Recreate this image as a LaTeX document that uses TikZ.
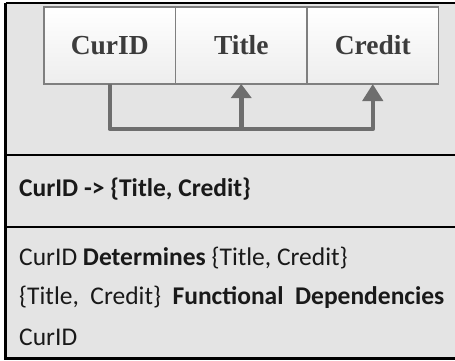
\documentclass[tikz,border=0pt]{standalone}
\usepackage{fontspec}
\setmainfont{Carlito}
\newfontfamily\boxfont{Liberation Serif}
\usetikzlibrary{arrows.meta,positioning,calc}

\definecolor{panelgray}{HTML}{E4E4E4}
\definecolor{boxedge}{HTML}{7F7F7F}
\definecolor{boxtext}{HTML}{3C3C3C}
\definecolor{conngray}{HTML}{6E6E6E}

\tikzset{
  attr/.style={draw=boxedge, line width=1.4pt, top color=white, bottom color=gray!14,
    minimum width=131.5pt, minimum height=77pt, inner sep=0pt, outer sep=0pt,
    font=\boxfont\bfseries\fontsize{27.5}{31}\selectfont, text=boxtext},
  conn/.style={draw=conngray, line width=4.5pt, line join=round},
  fdtext/.style={anchor=base west, inner sep=0pt, font=\fontsize{25.5}{30}\selectfont, text=black!90}
}

\begin{document}
\begin{tikzpicture}[x=1pt,y=-1pt]
  \useasboundingbox (0,0) rectangle (455,360);
  \clip (0,0) rectangle (455,360);
  % frame and panels
  \fill[panelgray] (5.5,3) rectangle (470,358);
  \draw[line width=2.5pt] (5.5,3) -- (470,3);
  \draw[line width=2.5pt] (5.5,3) -- (5.5,358.5) -- (470,358.5);
  \draw[line width=2pt] (5.5,155) -- (470,155);
  \draw[line width=2pt] (5.5,227) -- (470,227);

  % attribute boxes
  \node[attr] (curid) at (109.75,45.5) {CurID};
  \node[attr, right=0pt of curid] (title) {Title};
  \node[attr, right=0pt of title] (credit) {Credit};

  % dependency arrows
  \coordinate (bus) at ($(curid.south)+(0,45)$);
  \draw[conn, -{Triangle[width=20pt,length=17pt]}] (curid.south) -- (bus) -| (credit.south);
  \draw[conn, -{Triangle[width=20pt,length=14pt]}] (bus -| title.south) -- (title.south);

  % text lines
  \node[fdtext] (fdrule) at (19,196) {\textbf{CurID -> \{Title, Credit\}}};
  \node[fdtext] (detline) at (19,265) {CurID \textbf{Determines} \{Title, Credit\}};
  \node[fdtext] (fdline) at (19,304) {\{Title,\ \ Credit\}\ \ \textbf{Functional\ \ Dependencies}};
  \node[fdtext] (lhsline) at (19,345) {CurID};
\end{tikzpicture}
\end{document}
